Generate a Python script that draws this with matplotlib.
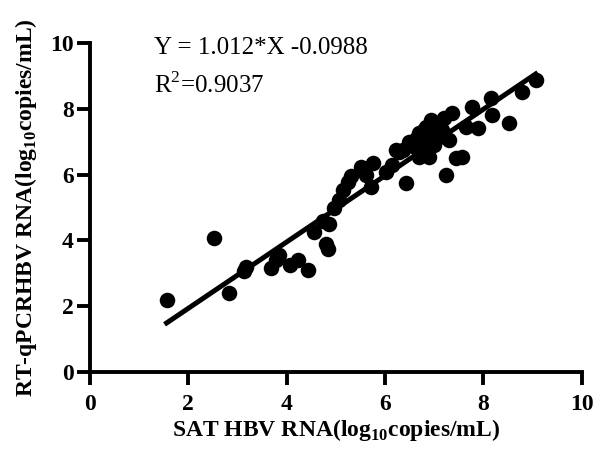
import numpy as np
import matplotlib
matplotlib.use('Agg')
import matplotlib.pyplot as plt

plt.rcParams['font.family'] = ['Liberation Serif', 'DejaVu Serif']
plt.rcParams['mathtext.fontset'] = 'custom'
plt.rcParams['mathtext.rm'] = 'Liberation Serif'
plt.rcParams['mathtext.bf'] = 'Liberation Serif:bold'

# SAT HBV RNA (x) vs RT-qPCR HBV RNA (y), log10 copies/mL
sat = [1.56, 2.52, 2.83, 3.14, 3.18, 3.68, 3.79, 3.85, 4.06, 4.23, 4.43,
       4.56, 4.73, 4.80, 4.83, 4.87, 4.97, 5.07, 5.14, 5.24, 5.31, 5.51,
       5.61, 5.71, 5.75, 6.02, 6.15, 6.22, 6.29, 6.36, 6.42, 6.49, 6.55,
       6.62, 6.69, 6.69, 6.75, 6.80, 6.83, 6.88, 6.90, 6.90, 6.93, 6.97,
       7.00, 7.05, 7.10, 7.10, 7.15, 7.20, 7.24, 7.30, 7.37, 7.44, 7.57,
       7.64, 7.77, 7.88, 8.15, 8.18, 8.52, 8.79, 9.06, 6.60, 6.75, 7.00]
qpcr = [2.18, 4.07, 2.39, 3.06, 3.19, 3.15, 3.40, 3.55, 3.25, 3.40, 3.09,
        4.26, 4.60, 3.88, 3.72, 4.50, 4.98, 5.23, 5.53, 5.79, 5.97, 6.24,
        5.99, 5.63, 6.35, 6.09, 6.30, 6.75, 6.70, 6.75, 5.74, 7.00, 6.90,
        7.10, 6.55, 7.26, 7.20, 7.35, 7.46, 7.05, 6.55, 7.00, 7.67, 7.30,
        7.15, 7.40, 7.16, 7.57, 7.35, 7.73, 5.99, 7.06, 7.87, 6.50, 6.55,
        7.46, 8.07, 7.41, 8.33, 7.82, 7.57, 8.53, 8.89, 6.85, 6.65, 6.90]

slope = 1.012
intercept = -0.0988
r2 = 0.9037

fig = plt.figure(figsize=(5.95, 4.5), dpi=100)
ax = fig.add_axes([0.151, 0.1744, 0.827, 0.729])

ax.scatter(sat, qpcr, s=125, color='black', zorder=3, linewidths=0)
xl = np.array([min(sat), max(sat)])
ax.plot(xl, slope * xl + intercept, color='black', lw=3.6, zorder=2)

ax.set_xlim(0, 10)
ax.set_ylim(0, 10)
ax.set_xticks(range(0, 11, 2))
ax.set_yticks(range(0, 11, 2))
for s in ['top', 'right']:
    ax.spines[s].set_visible(False)
for s in ['left', 'bottom']:
    ax.spines[s].set_linewidth(2.8)
ax.tick_params(width=2.8, length=9.5, labelsize=17)
ax.tick_params(axis='x', pad=7)
ax.tick_params(axis='y', pad=2)
for lab in ax.get_xticklabels() + ax.get_yticklabels():
    lab.set_fontweight('bold')

ax.set_xlabel(r'SAT HBV RNA(log$_{\mathbf{10}}$copies/mL)', fontsize=17, fontweight='bold', labelpad=1)
ax.set_ylabel(r'RT-qPCRHBV RNA(log$_{\mathbf{10}}$copies/mL)', fontsize=17, fontweight='bold', labelpad=8)

ax.text(1.3, 9.85, 'Y = 1.012*X -0.0988', fontsize=18, va='center')
ax.text(1.3, 8.72, r'R$^{2}$=0.9037', fontsize=18, va='center')

fig.savefig('out.png', dpi=100)
